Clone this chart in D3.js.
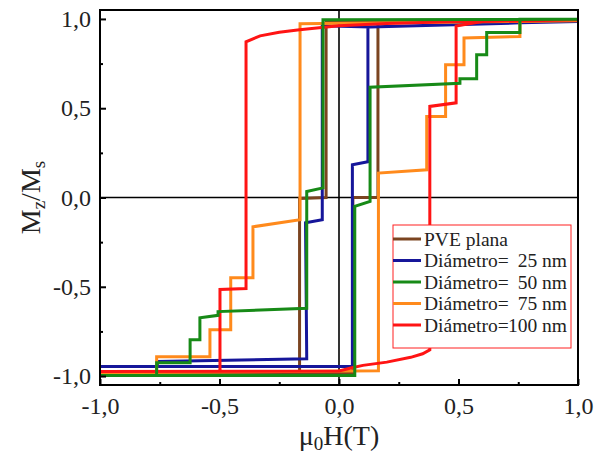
<!DOCTYPE html>
<html>
<head>
<meta charset="utf-8">
<script src="https://cdn.jsdelivr.net/npm/d3@7"></script>
<style>
  body { margin: 0; background: #fff; }
  text { font-family: "Liberation Serif", "Times New Roman", serif; fill: #222; }
</style>
</head>
<body>
<script>
// Hysteresis loops: field mu0H (T) and reduced magnetisation Mz/Ms
// each loop = descending branch (H: +1 -> -1) then ascending branch (-1 -> +1)
const pveH = [1.0, -0.054, -0.054, -0.165, -0.165, -1.0,
              0.058, 0.058, 0.163, 0.163, 1.0];
const pveM = [0.995, 0.99, 0.0, -0.005, -0.985, -0.985,
              -0.985, 0.0, 0.0, 0.99, 0.995];

const d25H = [1.0, 0.76, 0.13, -0.07, -0.07, -0.14, -0.135, -0.76, -0.76, -1.0,
              0.056, 0.056, 0.121, 0.121, 0.76, 1.0];
const d25M = [0.985, 0.978, 0.955, 0.962, -0.125, -0.142, -0.903, -0.918, -0.947, -0.947,
              -0.947, 0.183, 0.2, 0.955, 0.978, 0.985];

const d50H = [1.0, -0.067, -0.067, -0.135, -0.135, -0.506, -0.506, -0.582, -0.582, -0.623, -0.623, -0.763, -0.763, -1.0,
              0.066, 0.066, 0.13, 0.13, 0.506, 0.506, 0.576, 0.576, 0.618, 0.618, 0.757, 0.757, 1.0];
const d50M = [0.998, 0.995, 0.054, 0.034, -0.62, -0.639, -0.66, -0.674, -0.797, -0.797, -0.926, -0.926, -0.997, -0.997,
              -0.997, -0.05, -0.022, 0.618, 0.64, 0.665, 0.665, 0.8, 0.8, 0.924, 0.924, 0.998, 0.998];

const d75H = [1.0, -0.163, -0.163, -0.36, -0.36, -0.453, -0.453, -0.54, -0.54, -0.763, -0.763, -1.0,
              0.165, 0.165, 0.367, 0.367, 0.446, 0.446, 0.523, 0.523, 0.757, 0.757, 1.0];
const d75M = [0.99, 0.973, -0.125, -0.164, -0.45, -0.45, -0.74, -0.74, -0.892, -0.892, -0.982, -0.982,
              -0.97, 0.137, 0.155, 0.454, 0.454, 0.743, 0.743, 0.893, 0.902, 0.985, 0.99];

const d100H = [1.0, 0.5, 0.2, 0.0, -0.165, -0.25, -0.33, -0.389, -0.389, -0.498, -0.498, -1.0,
               0.0, 0.05, 0.1, 0.2, 0.3, 0.35, 0.38, 0.38, 0.49, 0.49, 0.6, 1.0];
const d100M = [0.995, 0.985, 0.975, 0.962, 0.94, 0.925, 0.905, 0.872, -0.51, -0.515, -0.975, -0.975,
               -0.972, -0.955, -0.94, -0.922, -0.895, -0.875, -0.853, 0.51, 0.53, 0.96, 0.985, 0.995];

const legendNames = ["PVE plana", "Diámetro=", "Diámetro=", "Diámetro=", "Diámetro="];
const legendSizes = ["", "25 nm", "50 nm", "75 nm", "100 nm"];
const colors = ["#7b4420", "#16169a", "#178a17", "#ff8a1c", "#ff1414"];

const majorTicks = [-1, -0.5, 0, 0.5, 1];
const minorTicks = [-0.75, -0.25, 0.25, 0.75];

const series = [
  { h: pveH, m: pveM },
  { h: d25H, m: d25M },
  { h: d50H, m: d50M },
  { h: d75H, m: d75M },
  { h: d100H, m: d100M }
];
series.forEach((s, i) => { s.color = colors[i]; s.name = legendNames[i]; s.size = legendSizes[i]; });

const W = 598, H = 461;
const margin = { top: 10, right: 20, bottom: 76, left: 100 };
const width = W - margin.left - margin.right;
const height = H - margin.top - margin.bottom;

const svg = d3.select("body").append("svg")
  .attr("width", W)
  .attr("height", H);

const g = svg.append("g")
  .attr("transform", `translate(${margin.left},${margin.top})`);

const x = d3.scaleLinear().domain([-1, 1]).range([0, width]);
const y = d3.scaleLinear().domain([-1.05, 1.05]).range([height, 0]);

const fmt = d3.formatLocale({ decimal: ",", thousands: ".", grouping: [3], currency: ["", ""], minus: "-" }).format(".1f");

// zero lines
g.append("line")
  .attr("x1", 0).attr("x2", width)
  .attr("y1", y(0)).attr("y2", y(0))
  .attr("stroke", "#000").attr("stroke-width", 1.6);
g.append("line")
  .attr("x1", x(0)).attr("x2", x(0))
  .attr("y1", 0).attr("y2", height)
  .attr("stroke", "#000").attr("stroke-width", 1.6);

// loops (draw order as in the picture: green on top)
const line = d3.line().x(d => x(d[0])).y(d => y(d[1]));
const order = [0, 1, 3, 4, 2];
order.forEach(i => {
  const s = series[i];
  g.append("path")
    .datum(d3.zip(s.h, s.m))
    .attr("d", line)
    .attr("fill", "none")
    .attr("stroke", s.color)
    .attr("stroke-width", 3)
    .attr("stroke-linejoin", "miter");
});

// axes, inward ticks
const xAxis = g.append("g")
  .attr("transform", `translate(0,${height})`)
  .call(d3.axisBottom(x).tickValues(majorTicks).tickFormat(fmt).tickSize(-6).tickPadding(12));
g.append("g")
  .attr("transform", `translate(0,${height})`)
  .call(d3.axisBottom(x).tickValues(minorTicks).tickFormat("").tickSize(-3));

const yAxis = g.append("g")
  .call(d3.axisLeft(y).tickValues(majorTicks).tickFormat(fmt).tickSize(-6).tickPadding(9));
g.append("g")
  .call(d3.axisLeft(y).tickValues(minorTicks).tickFormat("").tickSize(-3));

g.selectAll(".domain").remove();
g.selectAll(".tick line").attr("stroke", "#000").attr("stroke-width", 2);
g.selectAll(".tick text")
  .style("font-family", "'Liberation Serif', serif")
  .style("font-size", "24px")
  .attr("fill", "#222");

// frame
g.append("rect")
  .attr("width", width).attr("height", height)
  .attr("fill", "none")
  .attr("stroke", "#000")
  .attr("stroke-width", 2);

// axis titles
const xt = svg.append("text")
  .attr("x", margin.left + x(0))
  .attr("y", 445)
  .attr("text-anchor", "middle")
  .style("font-size", "28px");
xt.append("tspan").text("μ");
xt.append("tspan").text("0").style("font-size", "19px").attr("dy", 5);
xt.append("tspan").text("H(T)").attr("dy", -5);

const yt = svg.append("text")
  .attr("transform", `translate(40,${margin.top + y(0)}) rotate(-90)`)
  .attr("text-anchor", "middle")
  .style("font-size", "28px");
yt.append("tspan").text("M");
yt.append("tspan").text("z").style("font-size", "19px").attr("dy", 5);
yt.append("tspan").text("/M").attr("dy", -5);
yt.append("tspan").text("s").style("font-size", "19px").attr("dy", 5);

// legend
const lg = svg.append("g").attr("transform", "translate(393,225)");
lg.append("rect")
  .attr("width", 178).attr("height", 123)
  .attr("fill", "#fff")
  .attr("stroke", "#ff2020")
  .attr("stroke-width", 1);

series.forEach((s, i) => {
  const cy = 14 + i * 21.5;
  lg.append("line")
    .attr("x1", 0).attr("x2", 28)
    .attr("y1", cy).attr("y2", cy)
    .attr("stroke", s.color).attr("stroke-width", 3);
  lg.append("text")
    .attr("x", 31).attr("y", cy).attr("dy", "0.35em")
    .style("font-size", "19.5px")
    .text(s.name);
  if (s.size) {
    lg.append("text")
      .attr("x", 174).attr("y", cy).attr("dy", "0.35em")
      .attr("text-anchor", "end")
      .style("font-size", "19.5px")
      .text(s.size);
  }
});
</script>
</body>
</html>
